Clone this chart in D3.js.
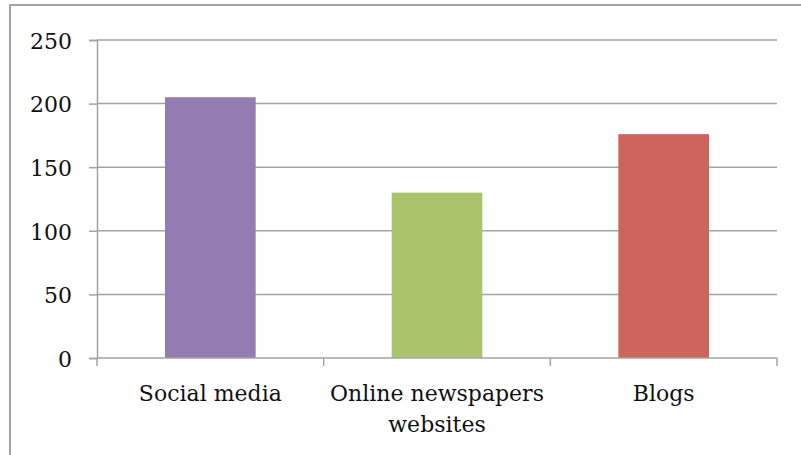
<!DOCTYPE html>
<html>
<head>
<meta charset="utf-8">
<script src="https://cdn.jsdelivr.net/npm/d3@7"></script>
<style>
  html, body { margin: 0; padding: 0; background: #fff; }
  svg { display: block; }
  text { font-family: "DejaVu Serif", "Liberation Serif", serif; fill: #111; }
</style>
</head>
<body>
<svg id="chart" width="801" height="455"></svg>
<script>
// Sources of information and how many respondents named each
const categories = [["Social media"], ["Online newspapers", "websites"], ["Blogs"]];
const values = [205, 130, 176];
const barColors = ["#937CB2", "#AAC46C", "#CD655E"];
const yTicks = [0, 50, 100, 150, 200, 250];

const W = 801, H = 455;
const margin = { left: 97, right: 24, top: 40, bottom: 97 };
const gridColor = "#A3A3A3";

const svg = d3.select("#chart");

// Outer frame
svg.append("rect")
  .attr("x", 10).attr("y", 5)
  .attr("width", W + 20).attr("height", H + 20)
  .attr("fill", "none")
  .attr("stroke", gridColor)
  .attr("stroke-width", 2);

const keys = categories.map(c => c.join(" "));

const x = d3.scaleBand()
  .domain(keys)
  .range([margin.left, W - margin.right])
  .paddingInner(0.6)
  .paddingOuter(0.3);

const y = d3.scaleLinear()
  .domain([0, 250])
  .range([H - margin.bottom, margin.top]);

// Horizontal gridlines
svg.append("g")
  .selectAll("line")
  .data(yTicks.filter(t => t > 0))
  .join("line")
  .attr("x1", margin.left).attr("x2", W - margin.right)
  .attr("y1", d => y(d)).attr("y2", d => y(d))
  .attr("stroke", gridColor)
  .attr("stroke-width", 1.5);

// Bars
svg.append("g")
  .selectAll("rect")
  .data(values)
  .join("rect")
  .attr("x", (d, i) => x(keys[i]))
  .attr("width", x.bandwidth())
  .attr("y", d => y(d))
  .attr("height", d => y(0) - y(d))
  .attr("fill", (d, i) => barColors[i]);

// Y axis
const yAxis = d3.axisLeft(y)
  .tickValues(yTicks)
  .tickSize(8)
  .tickPadding(17)
  .tickFormat(d3.format("d"));

const gy = svg.append("g")
  .attr("transform", `translate(${margin.left},0)`)
  .call(yAxis);
gy.select(".domain").attr("stroke", gridColor).attr("stroke-width", 1.5);
gy.selectAll(".tick line").attr("stroke", gridColor).attr("stroke-width", 1.5);
gy.selectAll(".tick text")
  .attr("font-size", 22)
  .attr("font-family", "DejaVu Serif, Liberation Serif, serif")
  .attr("fill", "#111")
  .attr("dy", "0.38em");

// X axis: baseline plus tick marks on category boundaries
const xAxisY = y(0);
const step = x.step();
const boundaries = d3.range(keys.length + 1).map(i => margin.left + i * step);

const gx = svg.append("g");
gx.append("line")
  .attr("x1", margin.left).attr("x2", W - margin.right)
  .attr("y1", xAxisY).attr("y2", xAxisY)
  .attr("stroke", gridColor)
  .attr("stroke-width", 1.5);
gx.selectAll("line.tick")
  .data(boundaries)
  .join("line")
  .attr("class", "tick")
  .attr("x1", d => d).attr("x2", d => d)
  .attr("y1", xAxisY).attr("y2", xAxisY + 8)
  .attr("stroke", gridColor)
  .attr("stroke-width", 1.5);

// Category labels (wrapped onto lines)
const labels = gx.selectAll("text.cat")
  .data(categories)
  .join("text")
  .attr("class", "cat")
  .attr("text-anchor", "middle")
  .attr("font-size", 22)
  .attr("x", (d, i) => x(keys[i]) + x.bandwidth() / 2)
  .attr("y", xAxisY + 43);
labels.selectAll("tspan")
  .data(d => d)
  .join("tspan")
  .attr("x", function () { return d3.select(this.parentNode).attr("x"); })
  .attr("dy", (d, i) => i === 0 ? 0 : 31)
  .text(d => d);
</script>
</body>
</html>
